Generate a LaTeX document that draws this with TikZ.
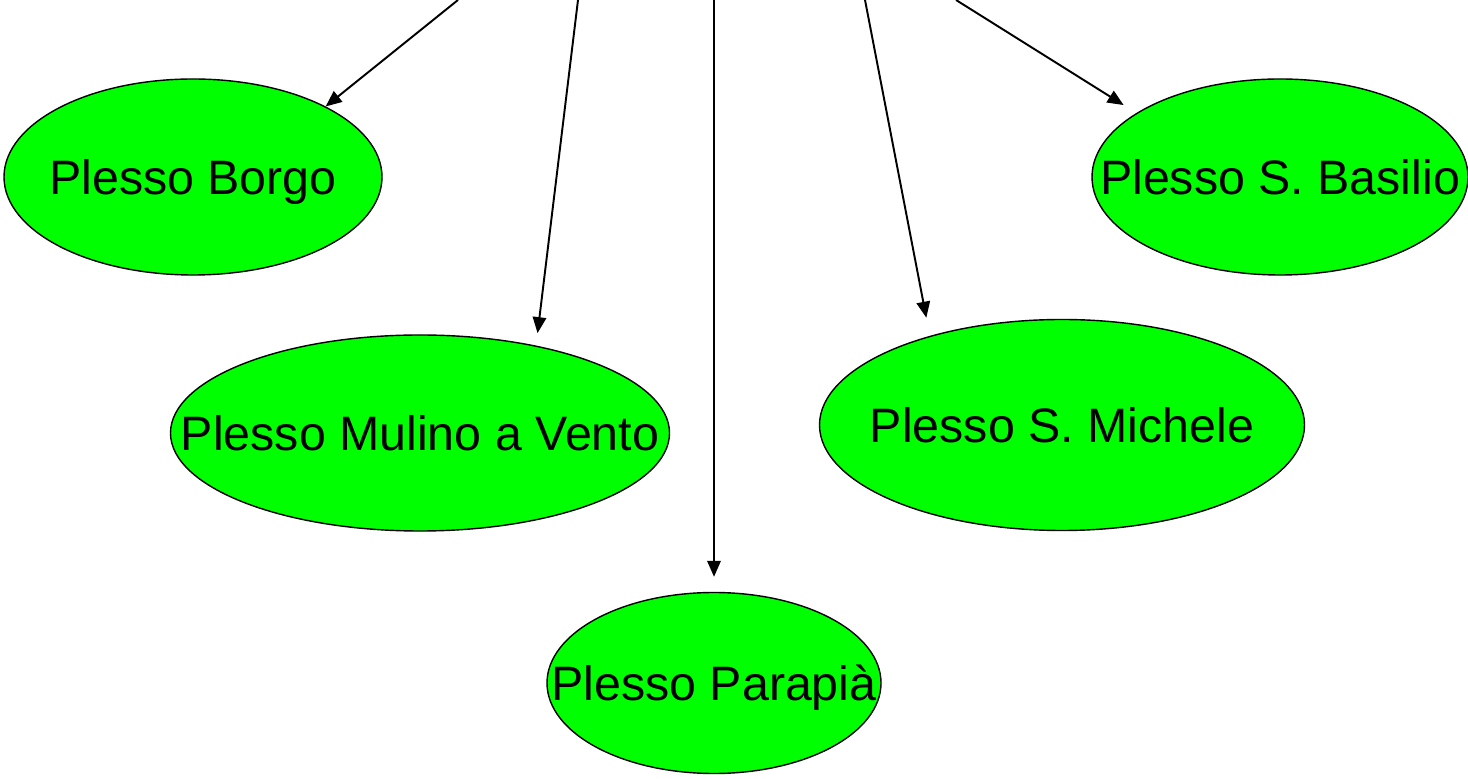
\documentclass[tikz,border=0pt]{standalone}
\usepackage{fontspec}
\setmainfont{Liberation Sans}
\usetikzlibrary{shapes.geometric,arrows.meta}
\definecolor{plessogreen}{RGB}{0,255,0}
\begin{document}
\begin{tikzpicture}[
    plesso/.style={ellipse, draw, fill=plessogreen, line width=0.8pt, inner sep=0pt,
        font=\fontsize{27.5}{33}\selectfont, text height=19.7pt, text depth=0pt},
    arrow/.style={-{Triangle[length=0.32cm,width=0.27cm]}, line width=1.1pt}
]
    \useasboundingbox (0,0) rectangle (29.36,15.56);

    \node[plesso, minimum width=7.56cm, minimum height=3.92cm] (borgo) at (3.86,12.02) {\makebox[0pt]{Plesso Borgo}};
    \node[plesso, minimum width=9.98cm, minimum height=3.92cm] (mulino) at (8.40,6.90) {\makebox[0pt]{Plesso Mulino a Vento}};
    \node[plesso, minimum width=6.68cm, minimum height=3.62cm] (parapia) at (14.28,1.90) {\makebox[0pt]{Plesso Parapià}};
    \node[plesso, minimum width=9.70cm, minimum height=4.22cm] (michele) at (21.24,7.06) {\makebox[0pt]{Plesso S. Michele}};
    \node[plesso, minimum width=7.52cm, minimum height=3.92cm] (basilio) at (25.60,12.02) {\makebox[0pt]{Plesso S. Basilio}};

    \coordinate (top1) at (9.16,15.56);
    \coordinate (top2) at (11.56,15.56);
    \coordinate (top3) at (14.28,15.56);
    \coordinate (top4) at (17.30,15.56);
    \coordinate (top5) at (19.12,15.56);

    \draw[arrow] (top1) -- (borgo.28.8);
    \draw[arrow, shorten >=0.25cm] (top2) -- (mulino.37.9);
    \draw[arrow, shorten >=0.3cm] (top3) -- (parapia.north);
    \draw[arrow, shorten >=0.37cm] (top4) -- (michele.146.7);
    \draw[arrow, shorten >=0.3cm] (top5) -- (basilio.156.9);
\end{tikzpicture}
\end{document}
